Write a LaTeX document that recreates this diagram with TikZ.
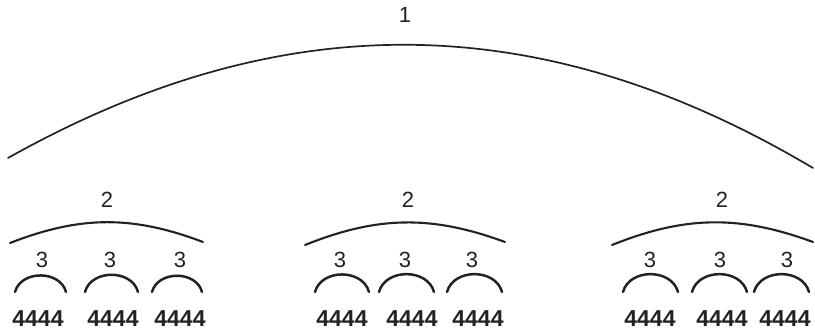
\documentclass[tikz,border=0pt]{standalone}
\usepackage{fontspec}
\setmainfont{Liberation Sans}
\usetikzlibrary{positioning}
\definecolor{Ink}{HTML}{222222}
\tikzset{
    lbl/.style={text=Ink, inner sep=0pt, font=\fontsize{22}{26}\selectfont},
    leaf/.style={text=Ink, inner sep=0pt, font=\fontsize{23}{27}\selectfont\bfseries},
    bigarc/.style={draw=Ink, line width=1.7pt, line cap=round},
    midarc/.style={draw=Ink, line width=2.1pt, line cap=round},
    smallarc/.style={draw=Ink, line width=2.5pt, line cap=round, looseness=1.15},
}
\begin{document}
\begin{tikzpicture}[x=1pt, y=1pt]
    \useasboundingbox (0,0) rectangle (815,334);

    % --- livello 1 ---
    \node[lbl] (top) at (405,319) {1};
    \coordinate (topl) at (8,176);
    \coordinate (topr) at (813,166);
    \draw[bigarc] (topl) to[bend left=30] (topr);

    % --- gruppo sinistro ---
    \node[lbl] (g1) at (107,134) {2};
    \coordinate (g1l) at (10,91);
    \coordinate (g1r) at (203,92);
    \draw[midarc] (g1l) to[bend left=21] (g1r);
    \foreach \i/\l/\r/\t/\w in {1/15/66/42/38, 2/85/138/110/113, 3/152/202/180/180} {
        \node[lbl] (g1s\i) at (\t,74) {3};
        \coordinate (g1s\i l) at (\l,42);
        \coordinate (g1s\i r) at (\r,42);
        \draw[smallarc] (g1s\i l) to[bend left=75] (g1s\i r);
        \node[leaf] (g1w\i) at (\w,15) {4444};
    }

    % --- gruppo centrale ---
    \node[lbl] (g2) at (408,134) {2};
    \coordinate (g2l) at (305,89);
    \coordinate (g2r) at (505,92);
    \draw[midarc] (g2l) to[bend left=21] (g2r);
    \foreach \i/\l/\r/\t/\w in {1/315/369/340/342, 2/379/434/405/412, 3/447/502/472/478} {
        \node[lbl] (g2s\i) at (\t,74) {3};
        \coordinate (g2s\i l) at (\l,42);
        \coordinate (g2s\i r) at (\r,42);
        \draw[smallarc] (g2s\i l) to[bend left=75] (g2s\i r);
        \node[leaf] (g2w\i) at (\w,15) {4444};
    }

    % --- gruppo destro ---
    \node[lbl] (g3) at (722,134) {2};
    \coordinate (g3l) at (612,89);
    \coordinate (g3r) at (813,92);
    \draw[midarc] (g3l) to[bend left=21] (g3r);
    \foreach \i/\l/\r/\t/\w in {1/623/678/650/650, 2/692/747/720/722, 3/754/809/787/785} {
        \node[lbl] (g3s\i) at (\t,74) {3};
        \coordinate (g3s\i l) at (\l,42);
        \coordinate (g3s\i r) at (\r,42);
        \draw[smallarc] (g3s\i l) to[bend left=75] (g3s\i r);
        \node[leaf] (g3w\i) at (\w,15) {4444};
    }
\end{tikzpicture}
\end{document}
